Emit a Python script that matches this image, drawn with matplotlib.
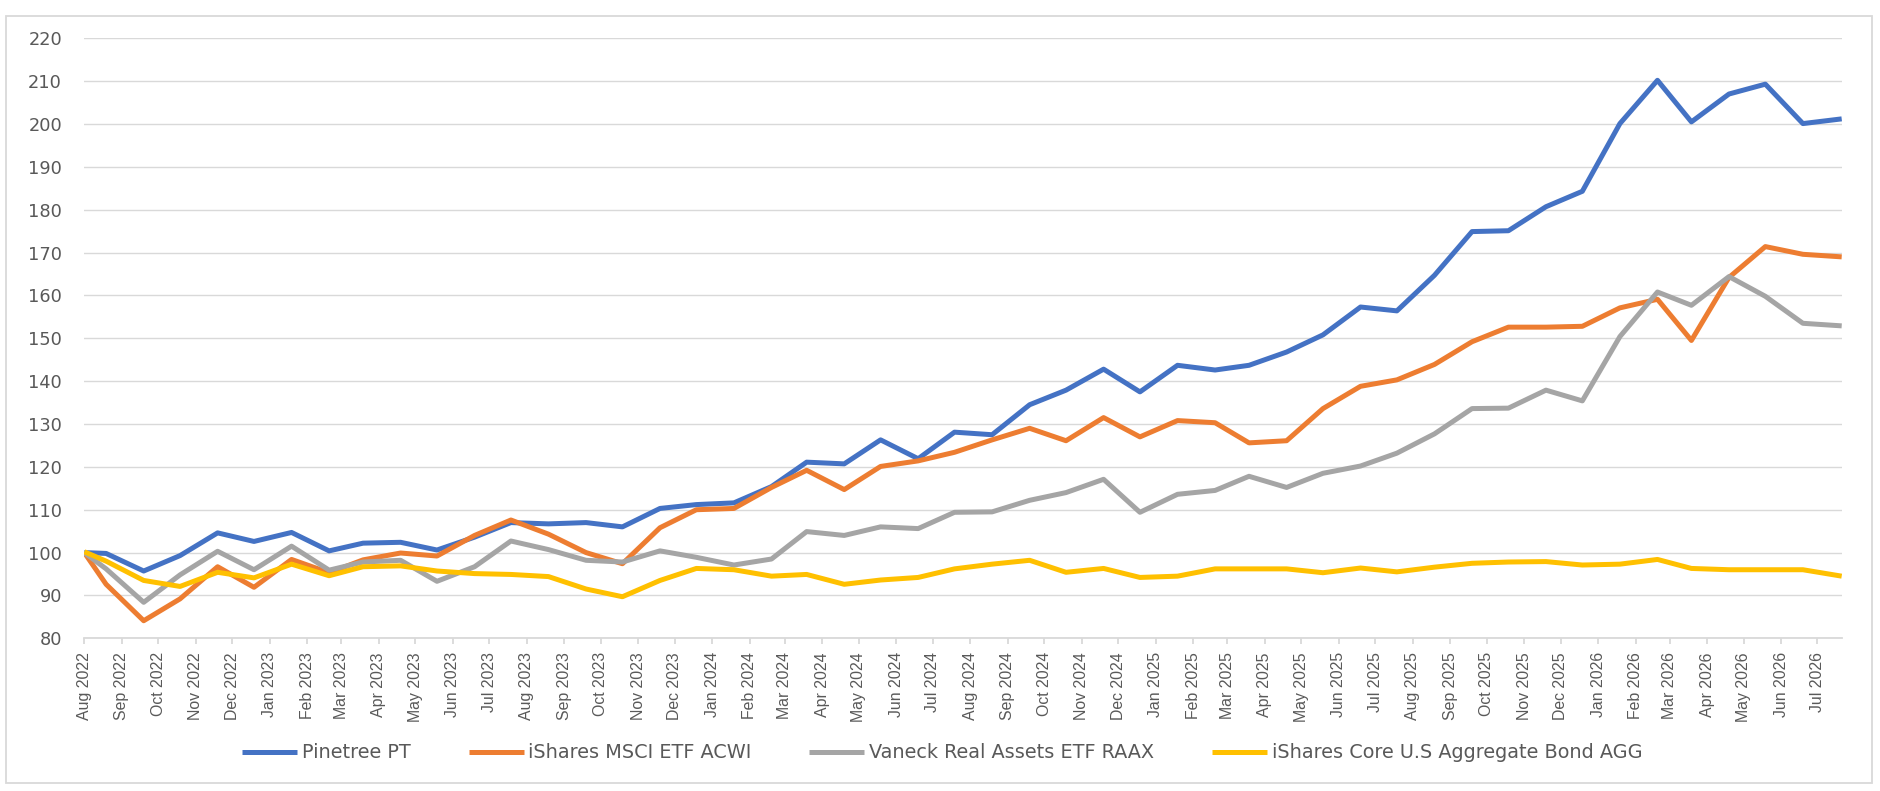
import matplotlib
matplotlib.use("Agg")
import matplotlib.pyplot as plt
import matplotlib.dates as mdates
from matplotlib import font_manager
from matplotlib.patches import Rectangle
import pandas as pd

# ---- data ----
dates = ["2022-08-01", "2022-08-19", "2022-09-19", "2022-10-19", "2022-11-19", "2022-12-19",
         "2023-01-19", "2023-02-19", "2023-03-19", "2023-04-19", "2023-05-19", "2023-06-19",
         "2023-07-19", "2023-08-19", "2023-09-19", "2023-10-19", "2023-11-19", "2023-12-19",
         "2024-01-19", "2024-02-19", "2024-03-19", "2024-04-19", "2024-05-19", "2024-06-19",
         "2024-07-19", "2024-08-19", "2024-09-19", "2024-10-19", "2024-11-19", "2024-12-19",
         "2025-01-19", "2025-02-19", "2025-03-19", "2025-04-19", "2025-05-19", "2025-06-19",
         "2025-07-19", "2025-08-19", "2025-09-19", "2025-10-19", "2025-11-19", "2025-12-19",
         "2026-01-19", "2026-02-19", "2026-03-19", "2026-04-19", "2026-05-19", "2026-06-19",
         "2026-07-21"]

pinetree = [100.0, 99.8, 95.7, 99.3, 104.6, 102.6, 104.7, 100.4, 102.2, 102.4, 100.6, 103.6,
            107.0, 106.7, 107.0, 106.0, 110.3, 111.2, 111.6, 115.4, 121.1, 120.7, 126.3, 121.9,
            128.1, 127.5, 134.5, 137.9, 142.8, 137.5, 143.7, 142.6, 143.7, 146.8, 150.8, 157.3,
            156.4, 164.7, 174.9, 175.1, 180.7, 184.3, 200.1, 210.2, 200.5, 207.0, 209.3, 200.1,
            201.2]
acwi = [100.0, 92.6, 84.1, 89.2, 96.7, 91.9, 98.4, 95.3, 98.3, 99.9, 99.2, 104.0,
        107.6, 104.3, 100.0, 97.4, 105.8, 110.0, 110.3, 115.2, 119.2, 114.7, 120.1, 121.4,
        123.4, 126.3, 129.0, 126.1, 131.5, 127.0, 130.8, 130.3, 125.6, 126.1, 133.6, 138.8,
        140.3, 143.9, 149.2, 152.6, 152.6, 152.8, 157.1, 159.1, 149.5, 164.2, 171.4, 169.6,
        169.0]
raax = [100.0, 96.2, 88.4, 94.8, 100.3, 96.0, 101.5, 95.9, 97.8, 98.2, 93.3, 96.7,
        102.7, 100.7, 98.2, 97.8, 100.4, 98.9, 97.1, 98.5, 104.9, 104.0, 106.0, 105.6,
        109.4, 109.5, 112.2, 114.0, 117.1, 109.4, 113.6, 114.5, 117.8, 115.2, 118.5, 120.2,
        123.2, 127.7, 133.6, 133.7, 137.9, 135.4, 150.4, 160.8, 157.7, 164.4, 159.8, 153.5,
        152.9]
agg = [100.2, 98.0, 93.5, 92.1, 95.4, 94.1, 97.3, 94.6, 96.7, 96.9, 95.7, 95.1,
       94.9, 94.4, 91.5, 89.7, 93.5, 96.3, 96.0, 94.5, 94.9, 92.6, 93.6, 94.2,
       96.2, 97.3, 98.2, 95.4, 96.3, 94.2, 94.5, 96.2, 96.2, 96.2, 95.3, 96.4,
       95.5, 96.6, 97.5, 97.8, 97.9, 97.1, 97.3, 98.4, 96.3, 96.0, 96.0, 96.0,
       94.5]

series_names = ["Pinetree PT", "iShares MSCI ETF ACWI", "Vaneck Real Assets ETF RAAX",
                "iShares Core U.S Aggregate Bond AGG"]
series_colors = ["#4472C4", "#ED7D31", "#A5A5A5", "#FFC000"]
y_ticks = list(range(80, 221, 10))

# ---- fonts ----
installed = {f.name for f in font_manager.fontManager.ttflist}
if "Liberation Sans Narrow" in installed:
    xlab_family, xlab_size = ["Liberation Sans Narrow", "DejaVu Sans"], 14
elif "Liberation Sans" in installed:
    xlab_family, xlab_size = ["Liberation Sans", "DejaVu Sans"], 11.4
else:
    xlab_family, xlab_size = ["DejaVu Sans"], 10.2

# ---- figure ----
W, H, DPI = 1881, 791, 100
fig = plt.figure(figsize=(W / DPI, H / DPI), dpi=DPI)
fig.patch.set_facecolor("white")

# outer chart border
fig.patches.append(Rectangle((6 / W, 1 - 783 / H), (1872 - 6) / W, (783 - 15.5) / H,
                             transform=fig.transFigure, fill=False,
                             edgecolor="#D9D9D9", linewidth=1.3, zorder=0))

left, right = 84.3 / W, 1841.7 / W
top, bottom = 1 - 38.3 / H, 1 - 638.3 / H
ax = fig.add_axes([left, bottom, right - left, top - bottom])

x = pd.to_datetime(dates)
for vals, name, col in zip([pinetree, acwi, raax, agg], series_names, series_colors):
    ax.plot(x, vals, color=col, linewidth=3.6, label=name,
            solid_joinstyle="round", solid_capstyle="butt", zorder=3)

ax.set_ylim(80, 220)
ax.set_yticks(y_ticks)
ax.set_xlim(x[0], x[-1])

ax.xaxis.set_major_locator(mdates.MonthLocator())
ax.xaxis.set_major_formatter(mdates.DateFormatter("%b %Y"))

ax.grid(axis="y", color="#D9D9D9", linewidth=1.0, zorder=0)
ax.set_axisbelow(True)
for s in ["top", "right", "left"]:
    ax.spines[s].set_visible(False)
ax.spines["bottom"].set_color("#D9D9D9")
ax.spines["bottom"].set_linewidth(1.3)

ax.tick_params(axis="y", length=0, pad=16, labelcolor="#595959", labelsize=12.8)
ax.tick_params(axis="x", length=4, width=1.3, color="#D9D9D9", direction="out",
               pad=6, labelcolor="#595959")
for lab in ax.get_yticklabels():
    lab.set_family(["DejaVu Sans"])
for lab in ax.get_xticklabels():
    lab.set_rotation(90)
    lab.set_ha("center")
    lab.set_va("top")
    lab.set_family(xlab_family)
    lab.set_fontsize(xlab_size)

leg_size = 13.9
em_px = leg_size * DPI / 72.0
leg = fig.legend(loc="center", bbox_to_anchor=(942.3 / W, 1 - 753 / H), ncol=4,
                 frameon=False, prop={"family": ["DejaVu Sans"], "size": leg_size},
                 handlelength=55 / em_px, handletextpad=4.5 / em_px,
                 columnspacing=58 / em_px, borderaxespad=0, borderpad=0)
for t in leg.get_texts():
    t.set_color("#595959")

fig.savefig("out.png", dpi=DPI, facecolor="white")
